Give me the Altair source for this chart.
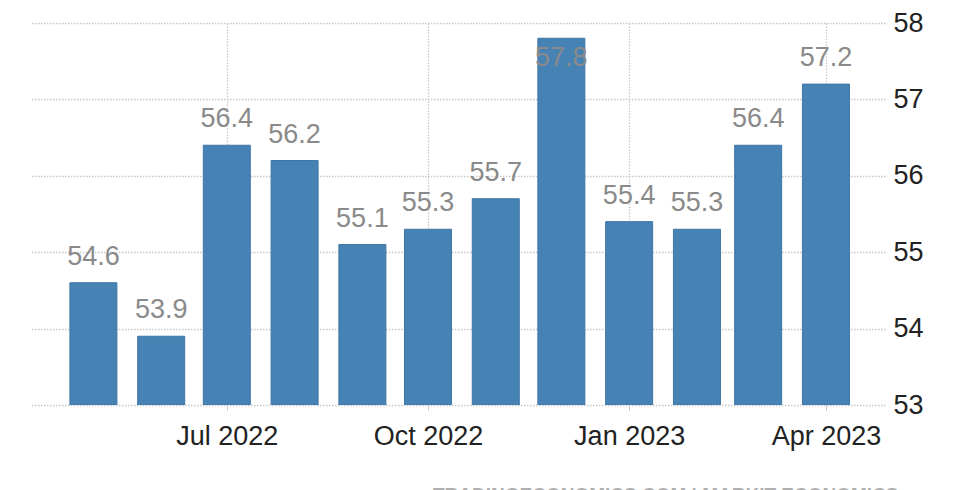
import altair as alt
import pandas as pd

months = ["2022-05-01", "2022-06-01", "2022-07-01", "2022-08-01", "2022-09-01", "2022-10-01",
          "2022-11-01", "2022-12-01", "2023-01-01", "2023-02-01", "2023-03-01", "2023-04-01"]
values = [54.6, 53.9, 56.4, 56.2, 55.1, 55.3, 55.7, 57.8, 55.4, 55.3, 56.4, 57.2]
y_ticks = [53, 54, 55, 56, 57, 58]
x_ticks = [(2022, 7), (2022, 10), (2023, 1), (2023, 4)]
watermark = "TRADINGECONOMICS.COM | MARKIT ECONOMICS"

df = pd.DataFrame({"date": months, "value": values})

FONT = "Liberation Sans"
GRID = "#c8c8c8"

x_enc = alt.X(
    "date:T",
    scale=alt.Scale(
        type="utc", padding=0,
        domain=[alt.DateTime(year=2022, month=4, date=2, utc=True),
                alt.DateTime(year=2023, month=4, date=28, utc=True)],
    ),
    axis=alt.Axis(
        values=[alt.DateTime(year=y, month=m, date=1, utc=True) for y, m in x_ticks],
        labelExpr="utcFormat(datum.value, '%b %Y')", title=None,
        grid=True, gridColor=GRID, gridDash=[1.5, 1.5], gridWidth=1.3,
        domain=False, ticks=True, tickSize=5, tickColor=GRID,
        labelFont=FONT, labelFontSize=27, labelColor="#222222", labelPadding=13,
    ),
)
y_enc = alt.Y(
    "value:Q",
    scale=alt.Scale(domain=[53, 58], zero=False, nice=False),
    axis=alt.Axis(
        orient="right", values=y_ticks, format="d", title=None,
        grid=True, gridColor=GRID, gridDash=[1.5, 1.5], gridWidth=1.3,
        domain=False, ticks=False,
        labelFont=FONT, labelFontSize=27, labelColor="#222222", labelPadding=8,
    ),
)

base = alt.Chart(df)

bars = base.mark_bar(width=47, color="#4682b4", stroke="#3f76a6", strokeWidth=1, clip=True).encode(
    x=x_enc, y=y_enc, y2=alt.datum(53)
)

label_style = dict(font=FONT, fontSize=27, color="#8a8a8a", baseline="alphabetic", align="center")
labels_above = base.transform_filter("datum.value < 57.5").mark_text(dy=-18, **label_style).encode(
    x="date:T", y="value:Q", text=alt.Text("value:Q", format=".1f")
)
labels_inside = base.transform_filter("datum.value >= 57.5").mark_text(dy=28, **label_style).encode(
    x="date:T", y="value:Q", text=alt.Text("value:Q", format=".1f")
)

wm = alt.Chart(pd.DataFrame({"t": [watermark]})).mark_text(
    font=FONT, fontSize=19, fontWeight="bold", color="#b0b0b0", align="left", baseline="top"
).encode(text="t:N", x=alt.value(403), y=alt.value(463))

chart = alt.layer(bars, labels_above, labels_inside, wm).properties(
    width=855, height=382,
    autosize=alt.AutoSizeParams(type="none"),
    padding={"left": 22, "top": 15, "right": 70, "bottom": 100},
).configure_view(stroke=None)

chart.save("out.html", embed_options={"renderer": "svg", "actions": False})
